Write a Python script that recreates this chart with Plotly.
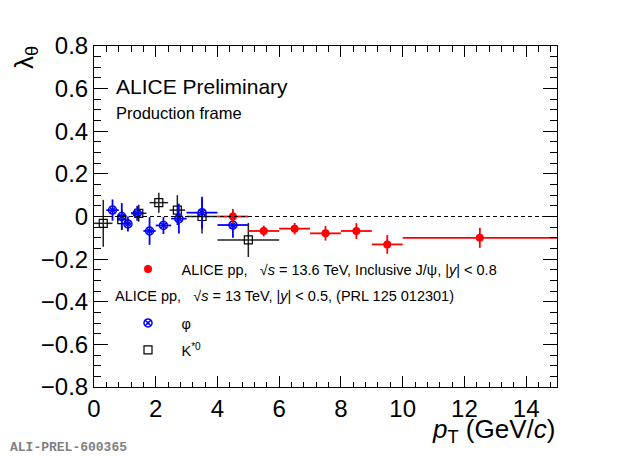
import plotly.graph_objects as go

# inclusive J/psi, pp 13.6 TeV
jpsi_pt = [4.5, 5.5, 6.5, 7.5, 8.5, 9.5, 12.5]
jpsi_pt_err = [0.5, 0.5, 0.5, 0.5, 0.5, 0.5, 2.5]
jpsi_lam = [0.0, -0.068, -0.057, -0.079, -0.068, -0.131, -0.10]
jpsi_lam_err = [0.035, 0.025, 0.027, 0.034, 0.037, 0.044, 0.047]

# phi, pp 13 TeV (PRL 125 012301)
phi_pt = [0.6, 0.9, 1.1, 1.4, 1.8, 2.25, 2.75, 3.5, 4.5]
phi_pt_err = [0.2, 0.1, 0.1, 0.2, 0.2, 0.25, 0.25, 0.5, 0.5]
phi_lam = [0.03, 0.0, -0.035, 0.015, -0.068, -0.042, -0.01, 0.018, -0.04]
phi_lam_err = [0.05, 0.063, 0.035, 0.035, 0.065, 0.04, 0.07, 0.075, 0.06]

# K*0, pp 13 TeV (PRL 125 012301)
kst_pt = [0.3, 0.9, 1.45, 2.1, 2.7, 3.5, 5.0]
kst_pt_err = [0.3, 0.15, 0.25, 0.3, 0.25, 0.5, 1.0]
kst_lam = [-0.032, -0.015, 0.015, 0.065, 0.03, 0.0, -0.11]
kst_lam_err = [0.11, 0.047, 0.04, 0.047, 0.07, 0.08, 0.08]

FONT = "Liberation Sans"
PAGE_W, PAGE_H = 620, 456
OFF = 8  # page body margin
W, H = PAGE_W - OFF, PAGE_H - OFF
L, R, T, B = 94, 557, 46, 387  # frame, page pixels


def px(x):
    return (x - L) / (R - L)


def py(y):
    return (B - y) / (B - T)


def errs(arr, color, thick):
    return dict(type="data", array=arr, width=0, thickness=thick, color=color)


fig = go.Figure()

fig.add_trace(go.Scatter(
    x=kst_pt, y=kst_lam, mode="markers", name="K<sup>*0</sup>",
    marker=dict(symbol="square-open", size=8, color="black", line=dict(width=1.2)),
    error_x=errs(kst_pt_err, "#222222", 1.5),
    error_y=errs(kst_lam_err, "#222222", 1.5),
    legend="legend3",
))
fig.add_trace(go.Scatter(
    x=phi_pt, y=phi_lam, mode="markers", name="φ",
    marker=dict(symbol="circle-x-open", size=8, color="#0000ff", line=dict(width=1.5)),
    error_x=errs(phi_pt_err, "#0000ff", 1.8),
    error_y=errs(phi_lam_err, "#0000ff", 1.8),
    legend="legend2",
))
fig.add_trace(go.Scatter(
    x=jpsi_pt, y=jpsi_lam, mode="markers",
    name="ALICE pp,\u00a0\u00a0\u00a0√<i>s</i> = 13.6 TeV, Inclusive J/ψ, |<i>y</i>| &lt; 0.8",
    marker=dict(symbol="circle", size=8, color="#ff0000"),
    error_x=errs(jpsi_pt_err, "#ff0000", 1.8),
    error_y=errs(jpsi_lam_err, "#ff0000", 1.8),
    legend="legend",
))

fig.add_hline(y=0, line=dict(color="black", width=1, dash="4px,3px"))

leg = dict(xanchor="left", yanchor="middle", bgcolor="rgba(0,0,0,0)",
           font=dict(family=FONT, size=14.5, color="black"), itemwidth=57)

fig.update_layout(
    width=W, height=H,
    margin=dict(l=L - OFF, r=PAGE_W - R, t=T - OFF, b=PAGE_H - B, pad=0, autoexpand=False),
    paper_bgcolor="white", plot_bgcolor="white",
    font=dict(family=FONT, color="black"),
    showlegend=True,
    legend=dict(x=px(114.5), y=py(269), **leg),
    legend2=dict(x=px(114.5), y=py(323), **leg),
    legend3=dict(x=px(114.5), y=py(350), **leg),
    xaxis=dict(range=[0, 15], dtick=2, tick0=0, showgrid=False, zeroline=False,
               showline=True, linecolor="black", linewidth=1, mirror="ticks",
               ticks="inside", ticklen=11, tickwidth=1, tickcolor="black",
               minor=dict(dtick=0.4, ticks="inside", ticklen=5.5, tickwidth=1, tickcolor="black"),
               tickfont=dict(family=FONT, size=24)),
    yaxis=dict(range=[-0.8, 0.8], dtick=0.2, tick0=0, showgrid=False, zeroline=False,
               showline=True, linecolor="black", linewidth=1, mirror="ticks",
               ticks="inside", ticklen=14, tickwidth=1, tickcolor="black",
               minor=dict(dtick=0.05, ticks="inside", ticklen=7, tickwidth=1, tickcolor="black"),
               tickfont=dict(family=FONT, size=24)),
)

notes = [
    dict(text="ALICE Preliminary", x=px(114), y=py(86), size=21, xanchor="left"),
    dict(text="Production frame", x=px(114), y=py(113), size=16.5, xanchor="left"),
    dict(text="ALICE pp,\u00a0\u00a0\u00a0√<i>s</i> = 13 TeV, |<i>y</i>| &lt; 0.5, (PRL 125 012301)",
         x=px(113), y=py(296), size=14.5, xanchor="left"),
    dict(text="<i>p</i><sub>T</sub> (GeV/<i>c</i>)", x=1.0, y=py(431), size=26, xanchor="right"),
]
for n in notes:
    fig.add_annotation(text=n["text"], x=n["x"], y=n["y"], xref="paper", yref="paper",
                       xanchor=n["xanchor"], yanchor="middle", showarrow=False,
                       font=dict(family=FONT, size=n["size"], color="black"))

fig.add_annotation(text="λ<sub>θ</sub>", x=px(26), y=py(58), xref="paper", yref="paper",
                   xanchor="center", yanchor="middle", showarrow=False, textangle=-90,
                   font=dict(family=FONT, size=26, color="black"))
fig.add_annotation(text="<b>ALI-PREL-600365</b>", x=px(OFF), y=py(447), xref="paper", yref="paper",
                   xanchor="left", yanchor="middle", showarrow=False,
                   font=dict(family="Liberation Mono", size=13, color="#808080"))

fig.write_html("out.html")
